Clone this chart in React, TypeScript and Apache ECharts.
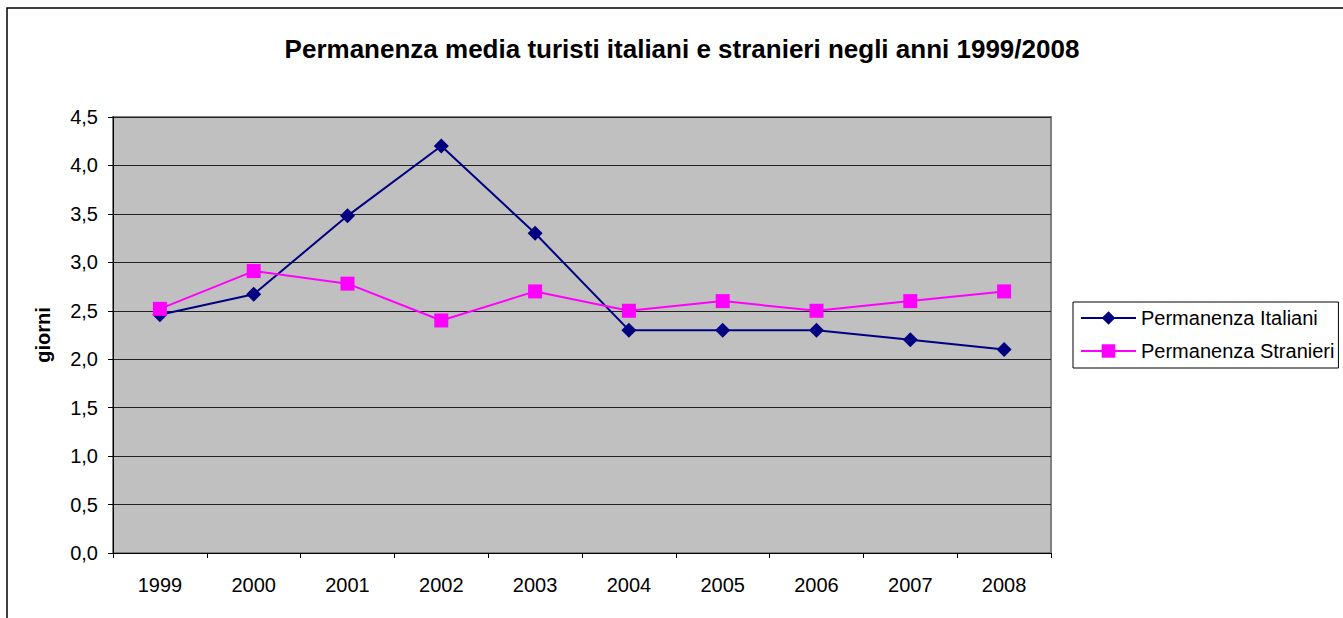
import React, { useEffect, useRef } from "react";
import * as echarts from "echarts";

const years = ["1999", "2000", "2001", "2002", "2003", "2004", "2005", "2006", "2007", "2008"];
const italiani = [2.46, 2.67, 3.48, 4.2, 3.3, 2.3, 2.3, 2.3, 2.2, 2.1];
const stranieri = [2.52, 2.91, 2.78, 2.4, 2.7, 2.5, 2.6, 2.5, 2.6, 2.7];
const titleText = "Permanenza media turisti italiani e stranieri negli anni 1999/2008";
const seriesNames = ["Permanenza Italiani", "Permanenza Stranieri"];
const yName = "giorni";

const FONT = "'Liberation Sans', Arial, sans-serif";

export default function App() {
  const ref = useRef<HTMLDivElement>(null);
  useEffect(() => {
    if (!ref.current) return;
    const chart = echarts.init(ref.current, undefined, { renderer: "svg" });
    chart.setOption({
      animation: false,
      backgroundColor: "#ffffff",
      textStyle: { fontFamily: FONT },
      title: {
        text: titleText,
        left: 677,
        top: 31,
        textAlign: "center",
        textStyle: { fontFamily: FONT, fontSize: 26, fontWeight: "bold", color: "#000" },
      },
      graphic: [
        {
          type: "rect",
          shape: { x: 7, y: 8, width: 1400, height: 700 },
          style: { fill: "none", stroke: "#000", lineWidth: 1.5 },
          silent: true,
          z: -1,
        },
      ],
      legend: {
        orient: "vertical",
        left: 1073,
        top: 302,
        padding: [6, 4, 7, 7],
        itemGap: 13,
        itemWidth: 55,
        itemHeight: 17,
        borderColor: "#000",
        borderWidth: 1,
        backgroundColor: "#fff",
        textStyle: { fontFamily: FONT, fontSize: 20, color: "#000" },
        data: seriesNames,
      },
      grid: {
        left: 113,
        top: 117,
        width: 938,
        height: 436,
        show: true,
        backgroundColor: "#C0C0C0",
        borderColor: "#808080",
        borderWidth: 2,
      },
      xAxis: {
        type: "category",
        data: years,
        boundaryGap: true,
        axisLine: { show: true, lineStyle: { color: "#000", width: 1 } },
        axisTick: { show: true, interval: 0, length: 5, lineStyle: { color: "#000" } },
        axisLabel: { fontFamily: FONT, fontSize: 20, color: "#000", margin: 22 },
        splitLine: { show: false },
      },
      yAxis: {
        type: "value",
        min: 0,
        max: 4.5,
        interval: 0.5,
        name: yName,
        nameLocation: "middle",
        nameRotate: 90,
        nameGap: 60,
        nameTextStyle: { fontFamily: FONT, fontSize: 20, fontWeight: "bold", color: "#000" },
        axisLine: { show: true, lineStyle: { color: "#000", width: 1 } },
        axisTick: { show: true, length: 5, lineStyle: { color: "#000" } },
        axisLabel: {
          fontFamily: FONT,
          fontSize: 20,
          color: "#000",
          margin: 15,
          formatter: (v: number) => v.toFixed(1).replace(".", ","),
        },
        splitLine: { show: true, lineStyle: { color: "#222", width: 1 } },
      },
      series: [
        {
          name: seriesNames[0],
          type: "line",
          data: italiani,
          symbol: "diamond",
          symbolSize: 15,
          color: "#000080",
          lineStyle: { color: "#000080", width: 2 },
          itemStyle: { color: "#000080" },
          z: 3,
        },
        {
          name: seriesNames[1],
          type: "line",
          data: stranieri,
          symbol: "rect",
          symbolSize: 14,
          color: "#FF00FF",
          lineStyle: { color: "#FF00FF", width: 2 },
          itemStyle: { color: "#FF00FF" },
          z: 4,
        },
      ],
    });
    return () => chart.dispose();
  }, []);
  return (
    <div
      ref={ref}
      style={{ position: "absolute", left: 0, top: 0, width: 1343, height: 618 }}
    />
  );
}
